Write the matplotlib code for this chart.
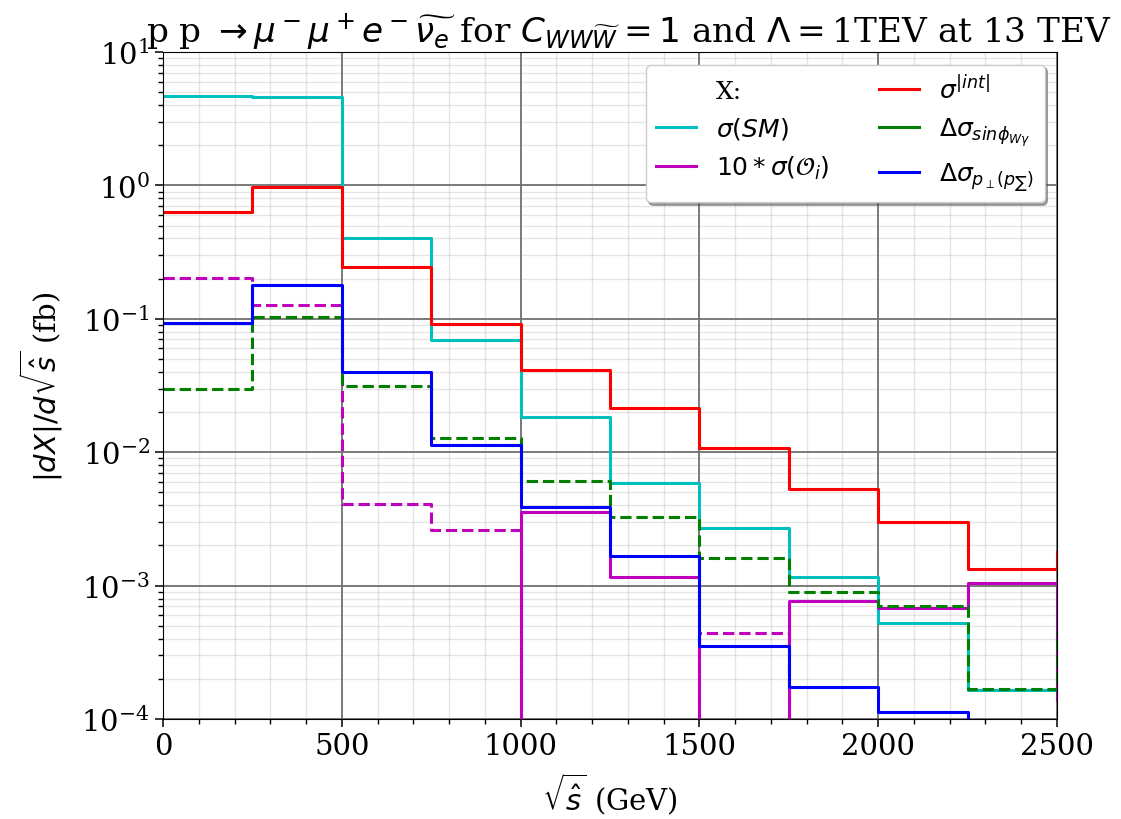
import numpy as np
import matplotlib
matplotlib.use("Agg")
import matplotlib.pyplot as plt
from matplotlib.lines import Line2D
from matplotlib.ticker import MultipleLocator

plt.rcParams['font.family'] = 'serif'
plt.rcParams['font.serif'] = ['DejaVu Serif']
plt.rcParams['mathtext.fontset'] = 'dejavusans'

# left bin edges in sqrt(s-hat) [GeV]; the last entry is the first overflow bin
bin_edges = [0, 250, 500, 750, 1000, 1250, 1500, 1750, 2000, 2250, 2500]

# differential cross sections [fb] per bin (signed where the sign matters)
sigma_sm = [4.70, 4.62, 0.404, 0.0697, 0.0184, 0.00587, 0.0027, 0.00116,
            5.25e-4, 1.65e-4, 1.5e-4]
sigma_int = [0.628, 0.967, 0.243, 0.0914, 0.0413, 0.0214, 0.0107, 0.0053,
             0.0030, 0.00133, 0.00179]
sigma_oi_x10 = [-0.202, -0.127, -0.0041, -0.0026, 0.00356, 0.00116,
                -4.4e-4, 7.7e-4, 6.8e-4, 1.045e-3, 1.4e-4]
dsigma_sinphi = [-0.0298, -0.1037, -0.0313, -0.01276, -0.0061, -0.00325,
                 -0.0016, -8.9e-4, -7.0e-4, -1.68e-4, -4.5e-4]
dsigma_pperp = [0.0931, 0.179, 0.0399, 0.01132, 0.00386, 0.001675,
                3.55e-4, 1.73e-4, 1.12e-4, 0.0, 0.0]

series = [
    (sigma_sm, 'c', r'$\sigma(SM)$'),
    (sigma_oi_x10, 'm', r'$10*\sigma(\mathcal{O}_i)$'),
    (sigma_int, 'r', r'$\sigma^{|int|}$'),
    (dsigma_sinphi, 'g', r'$\Delta\sigma_{sin\phi_{W\gamma}}$'),
    (dsigma_pperp, 'b', r'$\Delta\sigma_{p_\perp(p_\sum)}$'),
]

fig = plt.figure(figsize=(11.21, 8.20), dpi=100)
ax = fig.add_axes([163 / 1121, 1 - 720 / 820, (1057 - 163) / 1121, (720 - 53) / 820])
ax.set_yscale('log', nonpositive='clip')

edges = np.array(bin_edges, dtype=float)
handles = []
for vals, col, lab in series:
    v = np.array(vals, dtype=float)
    pos = np.where(v > 0, v, 0.0)
    neg = np.where(v < 0, -v, 0.0)
    ln, = ax.step(edges, pos, where='post', color=col, lw=2.2, label=lab)
    handles.append(ln)
    if np.any(neg > 0):
        ax.step(edges, neg, where='post', color=col, lw=2.2, ls='--')

ax.set_xlim(0, 2500)
ax.set_ylim(1e-4, 1e1)
ax.xaxis.set_minor_locator(MultipleLocator(100))
ax.grid(which='major', color='#707070', lw=1.3)
ax.grid(which='minor', color='gray', alpha=0.2, lw=1.0)
ax.set_axisbelow(True)
ax.tick_params(which='major', length=6, width=1.1, labelsize=21)
ax.tick_params(which='minor', length=3.5, width=1.0)

ax.set_xlabel(r'$\sqrt{\hat{s}}$ (GeV)', fontsize=21, labelpad=8)
ax.set_ylabel(r'$|dX|/d\sqrt{\hat{s}}$ (fb)', fontsize=21, labelpad=12)
ax.set_title(r'p p $\rightarrow \mu^-\mu^+e^-\widetilde{\nu_e}$ for '
             r'$C_{WW\widetilde{W}}=1$ and $\Lambda=$1TEV at 13 TEV',
             fontsize=24.7, pad=6, x=0.521)

blank = Line2D([], [], color='none', label='X:')
order = [blank] + handles
ax.legend(handles=order, ncol=2, loc='upper right', fontsize=18,
          handlelength=1.6, columnspacing=2.0,
          fancybox=True, shadow=True, framealpha=1.0)

fig.savefig('out.png', dpi=100)
